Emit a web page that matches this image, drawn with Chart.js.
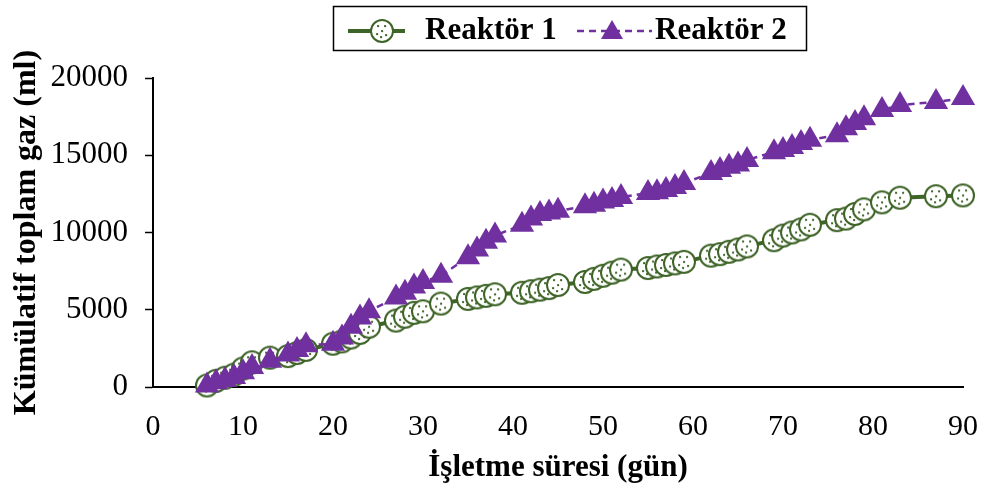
<!DOCTYPE html>
<html>
<head>
<meta charset="utf-8">
<script src="https://cdn.jsdelivr.net/npm/chart.js@4.4.1/dist/chart.umd.min.js"></script>
<style>
  body { margin: 0; background: #fff; }
  #wrap { width: 984px; height: 494px; }
</style>
</head>
<body>
<div id="wrap"><canvas id="chart" width="984" height="494"></canvas></div>
<script>
// çalışma günleri (gün)
const days = [6, 7, 8, 9, 10, 11, 13, 15, 16, 17, 20, 21, 22, 23, 24, 27, 28, 29, 30, 32,
  35, 36, 37, 38, 41, 42, 43, 44, 45, 48, 49, 50, 51, 52, 55, 56, 57, 58, 59,
  62, 63, 64, 65, 66, 69, 70, 71, 72, 73, 76, 77, 78, 79, 81, 83, 87, 90];

// Reaktör 1 kümülatif gaz (ml)
const reaktor1 = [100, 400, 600, 800, 1200, 1600, 1900, 2000, 2200, 2400, 2800, 2950, 3200, 3500, 3900,
  4300, 4550, 4800, 4900, 5400, 5700, 5800, 5900, 6000, 6100, 6200, 6300, 6400, 6600,
  6800, 7000, 7200, 7400, 7600, 7700, 7800, 7900, 8000, 8100, 8500, 8600, 8750, 8900, 9100,
  9500, 9800, 10000, 10200, 10500, 10800, 10900, 11200, 11500, 11950, 12250, 12350, 12400];

// Reaktör 2 kümülatif gaz (ml)
const reaktor2 = [100, 300, 450, 650, 950, 1300, 1700, 2100, 2400, 2700, 2800, 3200, 3900, 4500, 4900,
  5800, 6100, 6500, 6800, 7200, 8400, 8900, 9400, 9800, 10500, 10900, 11200, 11300, 11400,
  11700, 11800, 12000, 12100, 12300, 12550, 12600, 12750, 12950, 13200, 13850, 14050, 14250, 14400, 14700,
  15200, 15340, 15530, 15800, 16000, 16300, 16750, 17090, 17400, 17930, 18250, 18450, 18700];

const xTicks = [0, 10, 20, 30, 40, 50, 60, 70, 80, 90];
const yTicks = [0, 5000, 10000, 15000, 20000];

const GREEN = "#3E6427";
const PURPLE = "#7030A0";
const FONT = "'Liberation Serif', 'Times New Roman', serif";

/* noktalı daire işareti */
function makeDotCircle() {
  const c = document.createElement("canvas");
  c.width = 26;
  c.height = 26;
  const g = c.getContext("2d");
  g.beginPath();
  g.arc(13, 13, 11, 0, Math.PI * 2);
  g.fillStyle = "#fff";
  g.fill();
  g.lineWidth = 2;
  g.strokeStyle = GREEN;
  g.stroke();
  g.fillStyle = GREEN;
  [[9, 8], [16, 8], [13, 13], [8, 16], [17, 17], [12, 19]].forEach(p => {
    g.fillRect(p[0] - 0.9, p[1] - 0.9, 2, 2);
  });
  return c;
}

const dotCircle = makeDotCircle();

function toPoints(vals) {
  return days.map((d, i) => ({ x: d, y: vals[i] }));
}

/* kutulu lejant */
const boxLegend = {
  id: "boxLegend",
  afterDraw(ch) {
    const ctx = ch.ctx;
    ctx.save();
    ctx.strokeStyle = "#000";
    ctx.lineWidth = 1.5;
    ctx.strokeRect(333.5, 6.5, 473, 44);

    const cy = 31;
    // Reaktör 1
    ctx.strokeStyle = GREEN;
    ctx.lineWidth = 4;
    ctx.setLineDash([]);
    ctx.beginPath();
    ctx.moveTo(348, cy);
    ctx.lineTo(405, cy);
    ctx.stroke();
    ctx.drawImage(dotCircle, 382 - 13, cy - 13);

    // Reaktör 2
    ctx.strokeStyle = PURPLE;
    ctx.lineWidth = 2.5;
    ctx.setLineDash([7, 5]);
    ctx.beginPath();
    ctx.moveTo(577, cy);
    ctx.lineTo(652, cy);
    ctx.stroke();
    ctx.setLineDash([]);
    ctx.fillStyle = PURPLE;
    ctx.beginPath();
    ctx.moveTo(612, cy - 11);
    ctx.lineTo(623, cy + 8);
    ctx.lineTo(601, cy + 8);
    ctx.closePath();
    ctx.fill();

    ctx.fillStyle = "#000";
    ctx.font = "bold 31px " + FONT;
    ctx.textBaseline = "middle";
    ctx.fillText(ch.data.datasets[0].label, 425, cy);
    ctx.fillText(ch.data.datasets[1].label, 655, cy);
    ctx.restore();
  }
};

new Chart(document.getElementById("chart"), {
  type: "line",
  data: {
    datasets: [
      {
        label: "Reaktör 1",
        data: toPoints(reaktor1),
        borderColor: GREEN,
        borderWidth: 4,
        pointStyle: dotCircle,
        clip: false,
        order: 1
      },
      {
        label: "Reaktör 2",
        data: toPoints(reaktor2),
        borderColor: PURPLE,
        backgroundColor: PURPLE,
        borderWidth: 2.5,
        borderDash: [7, 5],
        pointStyle: "triangle",
        pointRadius: 14,
        pointBorderWidth: 0,
        pointBorderColor: PURPLE,
        pointBackgroundColor: PURPLE,
        clip: false,
        order: 0
      }
    ]
  },
  options: {
    responsive: false,
    animation: false,
    layout: { padding: { top: 78, right: 21, left: 8, bottom: 3 } },
    plugins: {
      legend: { display: false },
      tooltip: { enabled: false }
    },
    scales: {
      x: {
        type: "linear",
        min: 0,
        max: 90,
        afterBuildTicks: a => { a.ticks = xTicks.map(v => ({ value: v })); },
        afterFit: a => { a.height = 104; a.paddingRight = 0; a.paddingLeft = 0; },
        grid: { drawOnChartArea: false, drawTicks: false },
        border: { color: "#000", width: 2 },
        ticks: { color: "#000", font: { family: FONT, size: 30 }, padding: 22, callback: v => String(v) },
        title: {
          display: true,
          text: "İşletme süresi (gün)",
          color: "#000",
          font: { family: FONT, size: 31, weight: "bold" },
          padding: { top: 0, bottom: 4 }
        }
      },
      y: {
        min: 0,
        max: 20000,
        afterBuildTicks: a => { a.ticks = yTicks.map(v => ({ value: v })); },
        afterFit: a => { a.width = 145; },
        grid: { drawOnChartArea: false, drawTicks: true, tickLength: 8, color: "#000", tickWidth: 1.5 },
        border: { color: "#000", width: 2 },
        ticks: { color: "#000", font: { family: FONT, size: 31 }, padding: 17, callback: v => String(v) },
        title: {
          display: true,
          text: "Kümülatif toplam gaz (ml)",
          color: "#000",
          font: { family: FONT, size: 32, weight: "bold" },
          padding: { top: 0, bottom: 4 }
        }
      }
    }
  },
  plugins: [boxLegend]
});
</script>
</body>
</html>
